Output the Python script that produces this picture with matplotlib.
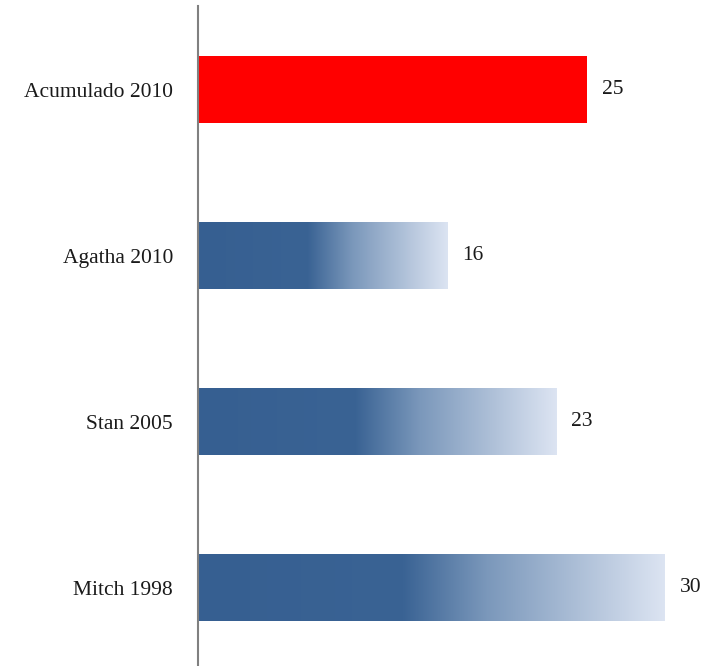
import numpy as np
import matplotlib.pyplot as plt
from matplotlib.colors import LinearSegmentedColormap

categories = ["Acumulado 2010", "Agatha 2010", "Stan 2005", "Mitch 1998"]
values = [25, 16, 23, 30]
bar_colors = ["#FF0000", "gradient", "gradient", "gradient"]

plt.rcParams["font.family"] = ["Liberation Serif", "DejaVu Serif"]

fig = plt.figure(figsize=(7.07, 6.66), dpi=100)
ax = fig.add_axes([198 / 707, 0, (665 - 198) / 707, 660 / 666])

blue = LinearSegmentedColormap.from_list(
    "fade", [(0, "#365F91"), (0.44, "#3A6394"), (0.62, "#7B98BB"), (1, "#DCE4F2")])
grad = np.linspace(0, 1, 256).reshape(1, -1)

y = np.arange(len(categories))
h = 0.40
for yi, v, c in zip(y, values, bar_colors):
    if c == "gradient":
        ax.imshow(grad, cmap=blue, aspect="auto", interpolation="bilinear",
                  extent=[0, v, yi + h / 2, yi - h / 2], zorder=2)
    else:
        ax.barh(yi, v, height=h, color=c, zorder=2)
    ax.annotate(str(v), (v, yi), xytext=(11, 0), textcoords="offset points",
                va="center", ha="left", fontsize=15.5, color="#1a1a1a")

ax.set_xlim(0, 30)
ax.set_ylim(len(categories) - 1 + 0.47, -0.503)
ax.set_yticks(y)
ax.set_yticklabels(categories, fontsize=15.5, color="#1a1a1a")
ax.tick_params(axis="y", length=0, pad=18)
ax.set_xticks([])
for s in ["top", "right", "bottom"]:
    ax.spines[s].set_visible(False)
ax.spines["left"].set_color("#808080")
ax.spines["left"].set_linewidth(1.5)

fig.savefig("out.png", dpi=100)
